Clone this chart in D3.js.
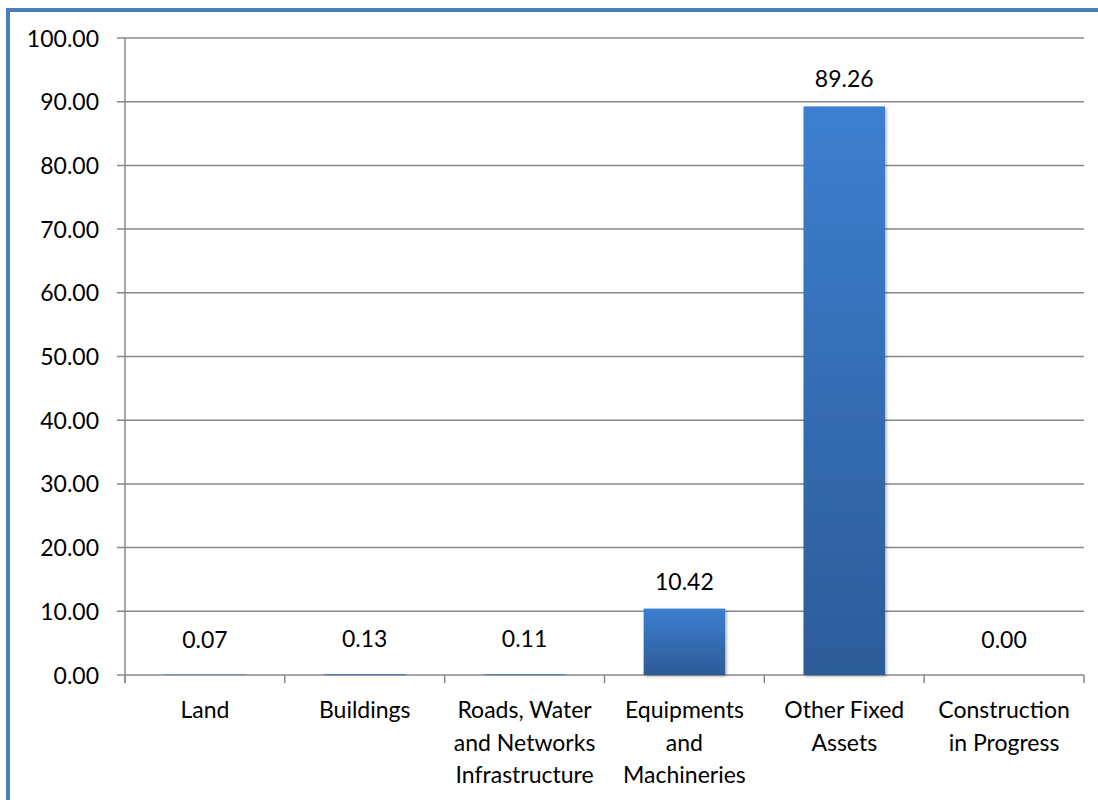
<!DOCTYPE html>
<html>
<head>
<meta charset="utf-8">
<script src="https://cdn.jsdelivr.net/npm/d3@7"></script>
<style>
  body { margin: 0; background: #fff; }
  text { font-family: Lato, "Open Sans", sans-serif; fill: #000; }
</style>
</head>
<body>
<script>
// chart data
const categories = ['Land', 'Buildings', 'Roads, Water and Networks Infrastructure', 'Equipments and Machineries', 'Other Fixed Assets', 'Construction in Progress']
const labelLines = [
  ['Land'],
  ['Buildings'],
  ['Roads, Water', 'and Networks', 'Infrastructure'],
  ['Equipments', 'and', 'Machineries'],
  ['Other Fixed', 'Assets'],
  ['Construction', 'in Progress']
]
const values = [0.07, 0.13, 0.11, 10.42, 89.26, 0.00]
const yTicks = [0, 10, 20, 30, 40, 50, 60, 70, 80, 90, 100]

const W = 1098, H = 800
const margin = { top: 38, right: 14, bottom: 125, left: 125 }

const svg = d3.select('body').append('svg')
  .attr('width', W)
  .attr('height', H)

// outer frame (only left and top edges visible)
svg.append('rect')
  .attr('x', 8).attr('y', 10)
  .attr('width', W + 20).attr('height', H + 20)
  .attr('fill', 'none')
  .attr('stroke', '#4a7ebb')
  .attr('stroke-width', 4)

const defs = svg.append('defs')
const grad = defs.append('linearGradient')
  .attr('id', 'barGrad')
  .attr('x1', 0).attr('y1', 0).attr('x2', 0).attr('y2', 1)
grad.append('stop').attr('offset', '0%').attr('stop-color', '#3d7fd0')
grad.append('stop').attr('offset', '100%').attr('stop-color', '#2c5b98')

const shadow = defs.append('filter').attr('id', 'shadow')
  .attr('x', '-10%').attr('y', '-10%').attr('width', '130%').attr('height', '130%')
shadow.append('feDropShadow')
  .attr('dx', 1.5).attr('dy', 1.5).attr('stdDeviation', 1.5)
  .attr('flood-color', '#000').attr('flood-opacity', 0.3)

const x = d3.scaleBand()
  .domain(categories)
  .range([margin.left, W - margin.right])
  .paddingInner(0.49)
  .paddingOuter(0.245)

const y = d3.scaleLinear()
  .domain([0, 100])
  .range([H - margin.bottom, margin.top])

const x0 = margin.left, x1 = W - margin.right
const yBase = y(0)

// gridlines
svg.append('g')
  .selectAll('line')
  .data(yTicks)
  .join('line')
  .attr('x1', x0 - 8).attr('x2', x1)
  .attr('y1', d => y(d)).attr('y2', d => y(d))
  .attr('stroke', '#888')
  .attr('stroke-width', 1.5)

// y axis line
svg.append('line')
  .attr('x1', x0).attr('x2', x0)
  .attr('y1', y(100)).attr('y2', yBase + 8)
  .attr('stroke', '#888')
  .attr('stroke-width', 1.5)

// y tick labels
svg.append('g')
  .selectAll('text')
  .data(yTicks)
  .join('text')
  .attr('x', 99)
  .attr('y', d => y(d) + 8.5)
  .attr('text-anchor', 'end')
  .attr('font-size', 23)
  .text(d => d3.format('.2f')(d))

// category ticks
const bounds = d3.range(categories.length + 1).map(i => x0 + i * (x1 - x0) / categories.length)
svg.append('g')
  .selectAll('line')
  .data(bounds)
  .join('line')
  .attr('x1', d => d).attr('x2', d => d)
  .attr('y1', yBase).attr('y2', yBase + 8)
  .attr('stroke', '#888')
  .attr('stroke-width', 1.5)

// bars
svg.append('g')
  .selectAll('rect')
  .data(values)
  .join('rect')
  .attr('x', (d, i) => x(categories[i]))
  .attr('width', x.bandwidth())
  .attr('y', d => y(d))
  .attr('height', d => yBase - y(d))
  .attr('fill', 'url(#barGrad)')
  .attr('filter', 'url(#shadow)')

// value labels
svg.append('g')
  .selectAll('text')
  .data(values)
  .join('text')
  .attr('x', (d, i) => x(categories[i]) + x.bandwidth() / 2)
  .attr('y', d => y(d) - (d < 1 ? 27 : 19))
  .attr('text-anchor', 'middle')
  .attr('font-size', 23)
  .text(d => d3.format('.2f')(d))

// category labels
const catG = svg.append('g')
  .selectAll('text')
  .data(labelLines)
  .join('text')
  .attr('text-anchor', 'middle')
  .attr('font-size', 23)
  .attr('transform', (d, i) => `translate(${x(categories[i]) + x.bandwidth() / 2},${yBase + 43})`)

catG.selectAll('tspan')
  .data(d => d)
  .join('tspan')
  .attr('x', 0)
  .attr('y', (d, i) => i * 32.5)
  .text(d => d)
</script>
</body>
</html>
